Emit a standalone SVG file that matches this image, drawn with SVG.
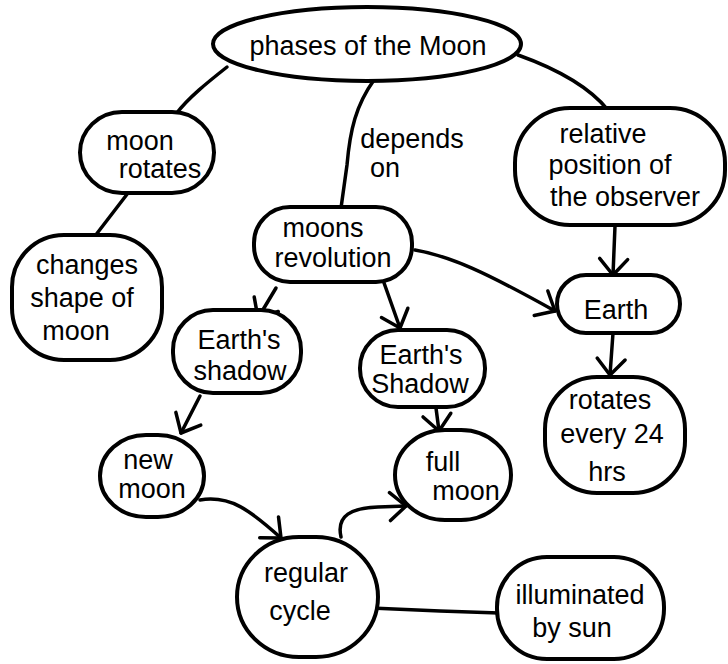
<svg xmlns="http://www.w3.org/2000/svg" width="728" height="664" viewBox="0 0 728 664">
<style>
.n{fill:#fff;stroke:#000;stroke-width:4}
.c{fill:none;stroke:#000;stroke-width:3.5;stroke-linecap:round;stroke-linejoin:round}
text{font-family:"Liberation Sans","DejaVu Sans",sans-serif;font-size:27px;fill:#000;text-anchor:middle}
</style>
<defs>
<marker id="ah" markerUnits="userSpaceOnUse" viewBox="-20 -17 24 34" refX="0" refY="0" markerWidth="24" markerHeight="34" orient="auto">
<path d="M-16,-14 L0,0 L-16,14" fill="none" stroke="#000" stroke-width="3.5" stroke-linecap="round" stroke-linejoin="round"/>
</marker>
</defs>
<rect width="728" height="664" fill="#fff"/>
<g id="connectors">
<path class="c" d="M227,67 C208,82 188,98 176,114"/>
<path class="c" d="M374,80 C356,105 350,130 347,165 L341,208"/>
<path class="c" d="M518,55 C560,70 590,88 608,110"/>
<path class="c" d="M128,193 L95,236"/>
<path class="c" d="M276,288 L258,318" marker-end="url(#ah)"/>
<path class="c" d="M383,280 L400,328" marker-end="url(#ah)"/>
<path class="c" d="M415,250 C450,256 485,272 555,311" marker-end="url(#ah)"/>
<path class="c" d="M615,226 L613,275" marker-end="url(#ah)"/>
<path class="c" d="M613,333 L610,375" marker-end="url(#ah)"/>
<path class="c" d="M200,396 L181,433" marker-end="url(#ah)"/>
<path class="c" d="M436,408 L439,431" marker-end="url(#ah)"/>
<path class="c" d="M200,500 C230,495 250,510 281,538" marker-end="url(#ah)"/>
<path class="c" d="M341,537 C336,515 352,508 378,507 L406,506" marker-end="url(#ah)"/>
<path class="c" d="M371,608 L440,611 L499,613"/>
<text x="412" y="148" font-size="28">depends</text>
<text x="385" y="177" font-size="28">on</text>
</g>
<g id="phases">
<ellipse class="n" cx="367" cy="44" rx="154" ry="37"/>
<text x="368" y="55" font-size="31">phases of the Moon</text>
</g>
<g id="moon-rotates">
<rect class="n" x="80" y="112" width="134" height="81" rx="42"/>
<text x="140" y="150">moon</text>
<text x="160" y="178">rotates</text>
</g>
<g id="relative-position">
<rect class="n" x="515" y="108" width="210" height="117" rx="55"/>
<text x="603" y="143" font-size="29">relative</text>
<text x="610" y="174" font-size="29">position of</text>
<text x="625" y="206" font-size="29">the observer</text>
</g>
<g id="changes-shape">
<rect class="n" x="12" y="235" width="150" height="125" rx="52"/>
<text x="87" y="274" font-size="29">changes</text>
<text x="82" y="307" font-size="29">shape of</text>
<text x="76" y="340" font-size="29">moon</text>
</g>
<g id="moons-revolution">
<rect class="n" x="254" y="207" width="158" height="75" rx="36"/>
<text x="323" y="237" font-size="28">moons</text>
<text x="333" y="267" font-size="28">revolution</text>
</g>
<g id="earth">
<rect class="n" x="557" y="275" width="123" height="58" rx="29"/>
<text x="616" y="319" font-size="40">Earth</text>
</g>
<g id="earths-shadow-left">
<rect class="n" x="173" y="310" width="128" height="83" rx="40"/>
<text x="239" y="349" font-size="28">Earth's</text>
<text x="240" y="380" font-size="28">shadow</text>
</g>
<g id="earths-shadow-mid">
<rect class="n" x="360" y="330" width="125" height="77" rx="38"/>
<text x="421" y="364" font-size="26">Earth's</text>
<text x="420" y="393" font-size="26">Shadow</text>
</g>
<g id="rotates">
<rect class="n" x="545" y="377" width="140" height="116" rx="52"/>
<text x="610" y="409" font-size="30">rotates</text>
<text x="612" y="443" font-size="30">every 24</text>
<text x="607" y="481" font-size="30">hrs</text>
</g>
<g id="new-moon">
<rect class="n" x="100" y="435" width="104" height="82" rx="46"/>
<text x="148" y="469">new</text>
<text x="152" y="498">moon</text>
</g>
<g id="full-moon">
<rect class="n" x="395" y="430" width="116" height="90" rx="50"/>
<text x="443" y="471">full</text>
<text x="466" y="500">moon</text>
</g>
<g id="regular-cycle">
<rect class="n" x="237" y="537" width="141" height="120" rx="62"/>
<text x="306" y="582" font-size="30">regular</text>
<text x="300" y="620" font-size="30">cycle</text>
</g>
<g id="illuminated">
<rect class="n" x="497" y="557" width="167" height="102" rx="50"/>
<text x="580" y="604" font-size="29">illuminated</text>
<text x="572" y="637" font-size="29">by sun</text>
</g>
</svg>
